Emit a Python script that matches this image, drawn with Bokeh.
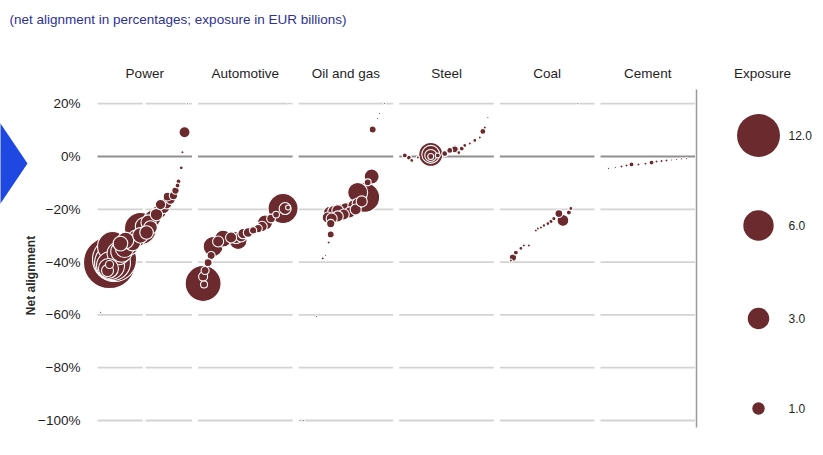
import numpy as np
from bokeh.plotting import figure
from bokeh.models import Range1d, ColumnDataSource
from bokeh.core.properties import value
from bokeh.embed import file_html
from bokeh.resources import INLINE

# ---------------- data ----------------
sectors = ["Power", "Automotive", "Oil and gas", "Steel", "Coal", "Cement"]
y_ticks = [20, 0, -20, -40, -60, -80, -100]
y_tick_labels = ["20%", "0%", "\u221220%", "\u221240%", "\u221260%", "\u221280%", "\u2212100%"]
legend_values = [12.0, 6.0, 3.0, 1.0]
legend_labels = ["12.0", "6.0", "3.0", "1.0"]

# rank = position of the company within its sector panel (0..1), align = net alignment (%), exp = exposure (EUR bn)
power_rank = [0.921, 0.899, 0.886, 0.857, 0.847, 0.825, 0.804, 0.772, 0.730, 0.698, 0.656, 0.624, 0.582, 0.540,
              0.497, 0.455, 0.455, 0.413, 0.370, 0.328, 0.286, 0.254, 0.222, 0.159, 0.127, 0.180, 0.159, 0.138,
              0.116, 0.106, 0.127, 0.032, 0.952, 0.561, 0.519, 0.296, 0.243, 0.667, 0.741]
power_align = [9.2, 1.6, -4.3, -9.4, -11.0, -12.9, -14.8, -16.3, -17.8, -19.3, -20.8, -22.0, -23.5, -25.0,
               -26.5, -27.3, -29.9, -31.1, -32.6, -33.7, -34.8, -36.0, -36.7, -34.1, -40.2, -39.0, -40.2, -41.3,
               -42.4, -43.2, -40.9, -59.1, 20.0, -26.9, -28.8, -31.8, -33.0, -18.2, -15.2]
power_exp = [0.79, 0.06, 0.10, 0.16, 0.16, 0.35, 0.45, 0.6, 0.8, 1.0, 1.3, 1.0, 1.8, 1.5,
             2.2, 6.7, 1.6, 2.0, 1.8, 2.6, 2.2, 3.0, 3.4, 5.85, 17.6, 12.6, 8.4, 5.1,
             2.6, 0.94, 0.42, 0.03, 0.03, 1.2, 1.2, 1.8, 1.4, 0.7, 0.5]

auto_rank = [0.053, 0.053, 0.063, 0.074, 0.106, 0.138, 0.159, 0.265, 0.423, 0.402, 0.476, 0.529, 0.582,
             0.635, 0.677, 0.709, 0.772, 0.825, 0.899, 0.921, 0.952, 0.963, 0.455, 0.349, 0.212]
auto_align = [-48.1, -45.5, -48.5, -43.2, -40.2, -37.5, -34.1, -31.1, -31.8, -30.7, -29.2, -28.8, -28.0,
              -27.3, -26.5, -25.0, -23.5, -22.0, -19.7, -19.7, -19.3, 20.0, -30.3, -30.7, -32.2]
auto_exp = [8.4, 0.53, 0.32, 0.42, 0.42, 0.42, 2.6, 1.88, 2.1, 0.94, 0.7, 0.6, 0.35,
            0.45, 0.7, 1.46, 0.5, 0.3, 5.85, 0.94, 0.16, 0.03, 0.8, 0.8, 0.8]

oil_rank = [0.910, 0.857, 0.836, 0.783, 0.772, 0.730, 0.698, 0.624, 0.667, 0.624, 0.582, 0.540, 0.497,
            0.455, 0.413, 0.370, 0.328, 0.603, 0.540, 0.476, 0.413, 0.349, 0.307, 0.339, 0.339, 0.317,
            0.254, 0.286, 0.190, 0.053]
oil_align = [20.1, 16.3, 14.4, 10.2, -7.6, -9.8, -15.5, -13.6, -17.0, -17.8, -18.6, -19.3, -19.7,
             -20.1, -20.5, -20.8, -21.2, -20.1, -21.2, -22.0, -22.7, -23.5, -23.1, -25.4, -29.5, -32.6,
             -38.6, -37.5, -60.6, -100.0]
oil_exp = [0.03, 0.03, 0.03, 0.32, 1.46, 0.32, 5.85, 2.6, 0.8, 0.8, 0.9, 0.9, 0.9,
           0.9, 0.9, 0.9, 1.0, 0.8, 0.8, 0.8, 0.8, 0.8, 0.8, 0.45, 0.32, 0.06,
           0.06, 0.03, 0.03, 0.03]

steel_rank = [0.333, 0.333, 0.333, 0.333, 0.058, 0.101, 0.132, 0.196, 0.407, 0.481, 0.534, 0.587, 0.630,
              0.661, 0.693, 0.746, 0.799, 0.852, 0.884, 0.905, 0.937]
steel_align = [0.8, 0.8, 0.4, 0.0, 0.4, -0.4, -1.5, -0.4, 0.4, 1.1, 2.3, 2.7, 1.5,
               3.0, 4.2, 4.9, 6.1, 7.2, 9.5, 11.0, 14.8]
steel_exp = [3.75, 2.1, 0.94, 0.23, 0.16, 0.16, 0.10, 0.06, 0.16, 0.23, 0.23, 0.32, 0.10,
             0.16, 0.10, 0.06, 0.10, 0.06, 0.23, 0.06, 0.03]

coal_rank = [0.825, 0.667, 0.624, 0.730, 0.751, 0.571, 0.540, 0.508, 0.466, 0.434, 0.402, 0.381,
             0.138, 0.169, 0.222, 0.254, 0.307, 0.116]
coal_align = [20.1, -24.2, -21.6, -21.2, -19.7, -23.5, -24.6, -25.4, -26.1, -26.9, -27.3, -28.0,
              -38.3, -36.4, -34.8, -33.7, -33.7, -39.4]
coal_exp = [0.03, 0.9, 0.4, 0.16, 0.10, 0.12, 0.12, 0.10, 0.08, 0.06, 0.06, 0.06,
            0.35, 0.16, 0.10, 0.06, 0.06, 0.06]

cement_rank = [0.085, 0.159, 0.222, 0.275, 0.328, 0.402, 0.476, 0.540, 0.593, 0.646, 0.698, 0.751,
               0.804, 0.857, 0.910]
cement_align = [-4.5, -4.2, -3.8, -3.4, -3.0, -3.0, -2.7, -2.3, -1.9, -1.7, -1.5, -1.3, -1.1, -0.9, -0.8]
cement_exp = [0.03, 0.03, 0.06, 0.06, 0.16, 0.06, 0.06, 0.16, 0.06, 0.06, 0.06, 0.03, 0.03, 0.03, 0.03]

# ---------------- layout constants (page pixels) ----------------
X0, PITCH = 97.0, 100.6      # page x of panel 0 left edge, panel pitch
Y0, PPU = 156.0, 2.64        # page y of 0%, pixels per percentage point
PANEL_W = 94.5 / PITCH
SIZE_K = 12.4                # bubble diameter px per sqrt(EUR bn)
OFF = 0                      # canvas offset on the page
W, H = 815, 447
FILL = "#6a2a2e"
FONT = "Liberation Sans"

def px_x(px):
    return (px - X0) / PITCH

def px_y(py):
    return (Y0 - py) / PPU

p = figure(width=W, height=H, output_backend="svg", toolbar_location=None,
           x_range=Range1d(px_x(OFF), px_x(OFF + W)), y_range=Range1d(px_y(OFF + H), px_y(OFF)),
           x_axis_location=None, y_axis_location=None, min_border=0)
p.outline_line_color = None
p.grid.visible = False
p.background_fill_color = "white"

# blue chevron at the left edge
p.patch(x=[px_x(-2), px_x(27), px_x(-2)], y=[px_y(120), px_y(163), px_y(206)],
        fill_color="#1f48e3", line_color=None)

# panel grid lines
gx0, gx1, gy, gc = [], [], [], []
for i in range(len(sectors)):
    for t in y_ticks:
        col = "#8f8f8f" if t == 0 else "#d3d3d3"
        if i == 0 and t != 0:
            pieces = [(0.0, 0.478), (0.508, 1.0)]
        else:
            pieces = [(0.0, 1.0)]
        for a, b in pieces:
            gx0.append(i + a * PANEL_W)
            gx1.append(i + b * PANEL_W)
            gy.append(t)
            gc.append(col)
p.segment(x0=gx0, y0=gy, x1=gx1, y1=gy, line_color=gc, line_width=1.8)

# vertical separator before legend
p.segment(x0=[px_x(696)], y0=[px_y(89)], x1=[px_x(696)], y1=[px_y(427)],
          line_color="#9a9a9a", line_width=1.5)

# bubbles
all_sets = [(power_rank, power_align, power_exp), (auto_rank, auto_align, auto_exp),
            (oil_rank, oil_align, oil_exp), (steel_rank, steel_align, steel_exp),
            (coal_rank, coal_align, coal_exp), (cement_rank, cement_align, cement_exp)]
bx, by, be = [], [], []
for i, (r, a, e) in enumerate(all_sets):
    for rr, aa, ee in zip(r, a, e):
        bx.append(i + rr * PANEL_W)
        by.append(aa)
        be.append(ee)
order = np.argsort(be)[::-1]
src = ColumnDataSource(dict(x=np.array(bx)[order], y=np.array(by)[order],
                            size=SIZE_K * np.sqrt(np.array(be)[order])))
p.scatter(x="x", y="y", size="size", source=src, fill_color=FILL, line_color="white", line_width=1.1)

# panel headers
p.text(x=[i + PANEL_W / 2 for i in range(len(sectors))], y=[px_y(73)] * len(sectors), text=sectors,
       text_font=value(FONT), text_font_size="13.5px", text_align="center", text_baseline="middle",
       text_color="#1e1e1e")

# y tick labels
p.text(x=[px_x(80)] * len(y_ticks), y=y_ticks, text=y_tick_labels,
       text_font=value(FONT), text_font_size="13.5px", text_align="right", text_baseline="middle",
       text_color="#1e1e1e")

# y axis title
p.text(x=[px_x(30)], y=[px_y(275)], text=["Net alignment"], angle=np.pi / 2,
       text_font=value(FONT), text_font_size="12px", text_font_style="bold", text_align="center",
       text_baseline="middle", text_color="#2a2a2a")

# chart subtitle
p.text(x=[px_x(9)], y=[px_y(19)], text=["(net alignment in percentages; exposure in EUR billions)"],
       text_font=value(FONT), text_font_size="13.5px", text_align="left", text_baseline="middle",
       text_color="#2e3192")

# size legend
leg_y = [px_y(135), px_y(225), px_y(318), px_y(408)]
p.text(x=[px_x(762)], y=[px_y(73)], text=["Exposure"],
       text_font=value(FONT), text_font_size="13.5px", text_align="center", text_baseline="middle",
       text_color="#1e1e1e")
p.scatter(x=[px_x(758)] * len(legend_values), y=leg_y,
          size=[SIZE_K * np.sqrt(v) for v in legend_values], fill_color=FILL, line_color=None)
p.text(x=[px_x(788)] * len(legend_labels), y=leg_y, text=legend_labels,
       text_font=value(FONT), text_font_size="12px", text_align="left", text_baseline="middle",
       text_color="#1e1e1e")

open("out.html", "w").write(file_html(p, INLINE))
